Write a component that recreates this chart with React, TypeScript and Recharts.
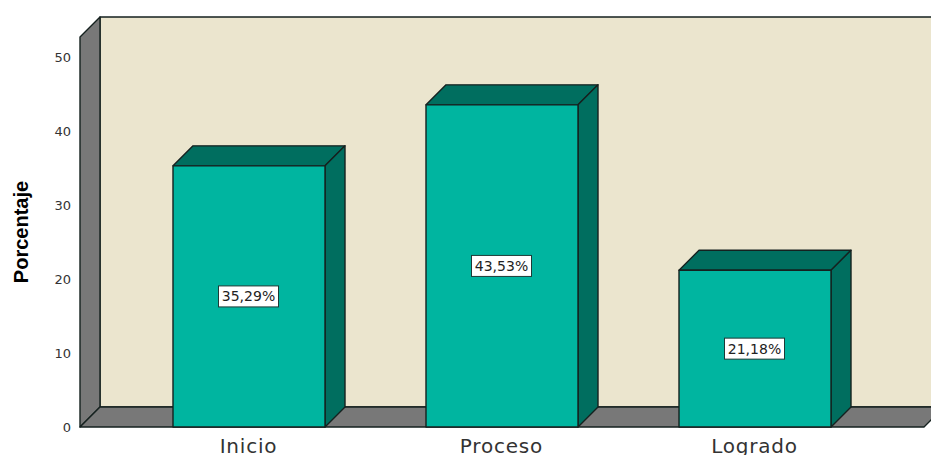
import { BarChart, Bar, XAxis, YAxis, LabelList, usePlotArea } from "recharts";

const categories = ["Inicio", "Proceso", "Logrado"];
const porcentaje = [35.29, 43.53, 21.18];
const yTicks = [0, 10, 20, 30, 40, 50];

const data = categories.map((name, i) => ({ name, value: porcentaje[i] }));

const DEPTH = 20;
const EDGE = "#15211f";

// wall, left side and floor of the 3D box
function Backdrop() {
  const plot = usePlotArea();
  if (!plot) return null;
  const { x, y, width, height } = plot;
  const right = x + width;
  const bottom = y + height;
  const d = DEPTH;
  return (
    <g stroke={EDGE} strokeWidth={1.4} strokeLinejoin="round">
      <rect x={x + d} y={y - d} width={width} height={height} fill="#ebe5ce" />
      <polygon
        points={`${x},${y} ${x + d},${y - d} ${x + d},${bottom - d} ${x},${bottom}`}
        fill="#787878"
      />
      <polygon
        points={`${x},${bottom} ${x + d},${bottom - d} ${right + d},${bottom - d} ${right},${bottom}`}
        fill="#787878"
      />
    </g>
  );
}

function Bar3D(props: any) {
  const { x, y, width, height } = props;
  const d = DEPTH;
  const r = x + width;
  const b = y + height;
  return (
    <g stroke={EDGE} strokeWidth={1.4} strokeLinejoin="round">
      <polygon
        points={`${x},${y} ${x + d},${y - d} ${r + d},${y - d} ${r},${y}`}
        fill="#006e5f"
      />
      <polygon
        points={`${r},${y} ${r + d},${y - d} ${r + d},${b - d} ${r},${b}`}
        fill="#006e5f"
      />
      <rect x={x} y={y} width={width} height={height} fill="#00b5a0" />
    </g>
  );
}

function ValueTag(props: any) {
  const { x, y, width, height, value } = props;
  const cx = x + width / 2 - 0.5;
  const cy = y + height / 2;
  const text = `${value.toFixed(2).replace(".", ",")}%`;
  return (
    <g>
      <rect
        x={cx - 30}
        y={cy - 10.5}
        width={60}
        height={21}
        fill="#ffffff"
        stroke="#1d3a36"
        strokeWidth={1}
      />
      <text
        x={cx}
        y={cy + 5}
        textAnchor="middle"
        fontFamily="'DejaVu Sans', sans-serif"
        fontSize={14}
        fill="#222222"
      >
        {text}
      </text>
    </g>
  );
}

export default function App() {
  return (
    <div style={{ position: "absolute", left: 0, top: 0 }}>
      <BarChart
        width={931}
        height={455}
        data={data}
        margin={{ top: 37, right: 7, bottom: 0, left: 0 }}
        barSize={152}
      >
        <Backdrop />
        <XAxis
          dataKey="name"
          height={28}
          padding={{ left: 42, right: 43 }}
          axisLine={false}
          tickLine={false}
          interval={0}
          tickMargin={6}
          tick={{
            fontFamily: "'DejaVu Sans', sans-serif",
            fontSize: 20,
            letterSpacing: 0.8,
            fill: "#333333",
          }}
        />
        <YAxis
          width={80}
          domain={[0, 52.7]}
          ticks={yTicks}
          axisLine={false}
          tickLine={false}
          tickMargin={3}
          tick={{
            fontFamily: "'DejaVu Sans', sans-serif",
            fontSize: 13,
            fill: "#333333",
          }}
          label={{
            value: "Porcentaje",
            angle: -90,
            position: "insideLeft",
            offset: 21,
            style: {
              fontFamily: "'Liberation Sans', sans-serif",
              fontWeight: "bold",
              fontSize: 20,
              fill: "#000000",
              textAnchor: "middle",
            },
          }}
        />
        <Bar dataKey="value" shape={<Bar3D />} isAnimationActive={false}>
          <LabelList dataKey="value" content={<ValueTag />} />
        </Bar>
      </BarChart>
    </div>
  );
}
